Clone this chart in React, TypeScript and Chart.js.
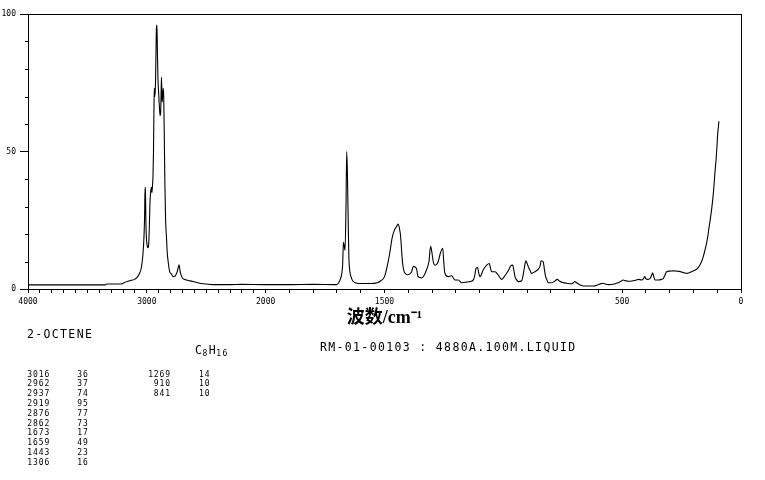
import React, { useEffect, useRef } from 'react';
import { Chart, registerables, LinearScale } from 'chart.js';

Chart.register(...registerables);

// ---- data ----
const wavenumbers = [
  4000, 3800, 3600, 3450, 3348, 3340, 3250, 3205, 3196, 3145, 3103, 3080, 3061, 3050, 3041, 3032, 3024, 3019, 3015, 3012,
  3008, 3004, 2995, 2989, 2984, 2978, 2974, 2966, 2962, 2957, 2952, 2948, 2944, 2940, 2937, 2932, 2927, 2923, 2919, 2915,
  2911, 2906, 2900, 2894, 2888, 2884, 2878, 2876, 2872, 2867, 2862, 2858, 2853, 2848, 2842, 2835, 2828, 2822, 2808, 2793,
  2780, 2765, 2752, 2743, 2735, 2729, 2722, 2715, 2700, 2667, 2611, 2527, 2442, 2300, 2200, 2000, 1900, 1800, 1701, 1695,
  1687, 1680, 1676, 1673, 1670, 1666, 1662, 1659, 1656, 1653, 1650, 1646, 1641, 1634, 1620, 1590, 1560, 1530, 1515, 1500,
  1488, 1478, 1468, 1458, 1449, 1443, 1437, 1432, 1428, 1424, 1418, 1414, 1405, 1393, 1386, 1378, 1372, 1365, 1359, 1350,
  1344, 1333, 1323, 1313, 1306, 1300, 1295, 1288, 1280, 1274, 1265, 1255, 1250, 1246, 1232, 1218, 1204, 1190, 1175, 1154,
  1140, 1126, 1120, 1115, 1108, 1104, 1098, 1085, 1070, 1059, 1054, 1049, 1035, 1021, 1007, 996, 986, 976, 969, 961,
  955, 951, 944, 937, 923, 918, 913, 908, 905, 900, 895, 888, 881, 867, 853, 845, 841, 832, 827, 822,
  816, 811, 800, 790, 782, 773, 764, 755, 734, 713, 705, 699, 692, 685, 675, 664, 640, 622, 605, 594,
  580, 570, 559, 538, 517, 505, 496, 486, 475, 454, 440, 433, 418, 410, 405, 400, 395, 383, 376, 372,
  367, 362, 348, 335, 327, 320, 313, 299, 285, 271, 260, 250, 239, 229, 218, 208, 197, 187, 180, 173,
  166, 159, 152, 145, 139, 134, 129, 124, 119, 114, 110, 105, 101, 98, 95, 93,
];
const intensities = [
  1.5, 1.5, 1.5, 1.5, 1.5, 1.8, 1.8, 1.9, 2.2, 3.0, 3.5, 4.3, 5.7, 7, 9.3, 13, 19, 26, 37, 36,
  25, 19, 15.4, 15, 16.5, 24, 31, 36, 37, 35, 38, 41, 50, 66, 73, 70, 75, 86, 95, 96,
  86, 76, 71, 66, 63, 64, 75, 77, 68, 70, 73, 70, 55, 38, 25, 19, 13, 10.5, 6.3, 5.5,
  4.5, 4.6, 5.5, 6.5, 8, 8.8, 7, 5.5, 4, 3.3, 2.7, 1.9, 1.6, 1.6, 1.7, 1.6, 1.6, 1.7, 1.6, 2.0,
  3.3, 5.5, 9, 17, 16, 14, 30, 50, 42, 26, 12, 6.5, 4.5, 3, 2.2, 2, 2, 2.3, 3, 4.5,
  8.5, 13, 18.5, 21.5, 22.7, 23.6, 22, 19, 14, 9.5, 6.5, 5.8, 5.2, 5.5, 6.3, 8.3, 8, 7.3, 4.5, 4.2,
  4, 5, 7, 10, 15.5, 13, 10, 8.7, 9, 10, 13, 14.8, 9, 5.8, 4.5, 4.8, 3.3, 3.3, 2.3, 2.5,
  2.7, 3.3, 5, 7.5, 7.8, 6, 4.5, 6.9, 8.7, 9.3, 7.5, 6.3, 6.3, 5, 3.5, 4.5, 5.7, 7.2, 8.4, 8.7,
  6.5, 4.5, 3.3, 2.7, 3, 4.5, 6.9, 9.5, 10.3, 9.3, 8.1, 6.8, 5.7, 6.3, 7.2, 8.5, 10.3, 9.8, 7, 4.5,
  3.2, 2.3, 2.3, 2.5, 3, 3.5, 2.9, 2.5, 2.1, 1.9, 2.3, 2.7, 2.3, 1.9, 1.4, 1.1, 1.1, 1.1, 1.4, 1.8,
  2.1, 1.8, 1.6, 1.7, 2.3, 2.8, 3.3, 3.0, 2.8, 3, 3.3, 3.5, 3.3, 3.8, 4.5, 3.8, 3.5, 3.8, 5, 5.9,
  4.5, 3.3, 3.3, 3.5, 3.8, 5, 6.3, 6.5, 6.6, 6.5, 6.4, 6.2, 5.9, 5.7, 5.9, 6.3, 6.7, 7.2, 7.8, 8.7,
  10, 11.7, 14, 16.6, 19.5, 22.7, 25.5, 28.7, 32.5, 37.2, 42, 46.9, 52, 56.6, 59, 61,
];

const xTickLabels = [4000, 3000, 2000, 1500, 500, 0];
const yTickLabels = [0, 50, 100];
const peakWavenumbers1 = ['3016', '2962', '2937', '2919', '2876', '2862', '1673', '1659', '1443', '1306'];
const peakIntensities1 = ['36', '37', '74', '95', '77', '73', '17', '49', '23', '16'];
const peakWavenumbers2 = ['1269', '910', '841'];
const peakIntensities2 = ['14', '10', '10'];
const compoundName = '2-OCTENE';
const sampleInfo = 'RM-01-00103 : 4880A.100M.LIQUID';

// ---- split wavenumber scale: above 2000 cm-1 compressed 2:1 ----
const BREAK = 2000;
const toAxis = (w: number) => (w <= BREAK ? w : BREAK + (w - BREAK) / 2);
const fromAxis = (a: number) => (a <= BREAK ? a : BREAK + (a - BREAK) * 2);

class BrokenScale extends LinearScale {
  static id = 'broken';
  static defaults = LinearScale.defaults;
  buildTicks() {
    const ticks: { value: number }[] = [];
    for (let v = this.min; v <= this.max + 1e-6; v += 100) ticks.push({ value: v });
    if (this.options.reverse) {
      ticks.reverse();
      (this as any).start = this.max;
      (this as any).end = this.min;
    } else {
      (this as any).start = this.min;
      (this as any).end = this.max;
    }
    return ticks as any;
  }
  getPixelForValue(value: number) {
    const a0 = toAxis(this.min);
    const span = toAxis(this.max) - a0;
    return this.getPixelForDecimal((toAxis(value) - a0) / span);
  }
  getValueForPixel(pixel: number) {
    const a0 = toAxis(this.min);
    const span = toAxis(this.max) - a0;
    return fromAxis(a0 + this.getDecimalForPixel(pixel) * span);
  }
}
Chart.register(BrokenScale as any);

const framePlugin = {
  id: 'frameAndMinorTicks',
  afterDraw(chart: any) {
    const ctx = chart.ctx;
    const a = chart.chartArea;
    const y = chart.scales.y;
    ctx.save();
    ctx.strokeStyle = '#000';
    ctx.lineWidth = 1;
    y.ticks.forEach((t: any) => {
      if (!yTickLabels.includes(t.value)) {
        const py = Math.round(y.getPixelForValue(t.value)) + 0.5;
        ctx.beginPath();
        ctx.moveTo(Math.round(a.left) - 3, py);
        ctx.lineTo(Math.round(a.left), py);
        ctx.stroke();
      }
    });
    ctx.strokeRect(Math.round(a.left) + 0.5, Math.round(a.top) + 0.5, Math.round(a.right - a.left), Math.round(a.bottom - a.top));
    ctx.restore();
  },
};

const mono = "'DejaVu Sans Mono', 'Liberation Mono', monospace";

export default function App() {
  const ref = useRef<HTMLCanvasElement>(null);
  useEffect(() => {
    if (!ref.current) return;
    const points = wavenumbers.map((w, i) => ({ x: w, y: intensities[i] }));
    const chart = new Chart(ref.current, {
      type: 'line',
      data: {
        datasets: [
          {
            data: points,
            borderColor: '#000',
            borderWidth: 1.1,
            pointRadius: 0,
            fill: false,
            cubicInterpolationMode: 'monotone',
          },
        ],
      },
      options: {
        animation: false,
        responsive: false,
        events: [],
        layout: { padding: { left: 0, top: 14, right: 24, bottom: 151 } },
        plugins: { legend: { display: false }, tooltip: { enabled: false }, title: { display: false } },
        scales: {
          x: {
            type: 'broken' as any,
            min: 0,
            max: 4000,
            reverse: true,
            afterFit: (s: any) => {
              s.height = 40;
            },
            border: { display: true, color: '#000', width: 1 },
            grid: { display: true, drawOnChartArea: false, drawTicks: true, tickLength: 4, color: '#000' },
            ticks: {
              autoSkip: false,
              maxRotation: 0,
              minRotation: 0,
              padding: 4,
              color: '#000',
              font: { family: mono, size: 8 },
              callback: (v: any) => (xTickLabels.includes(Number(v)) ? String(v) : ''),
            },
            title: {
              display: true,
              text: '波数/cm⁻¹',
              color: '#000',
              padding: { top: 0, bottom: 0 },
              font: { family: "'Liberation Serif', 'Noto Sans CJK SC', serif", size: 18, weight: 'bold' },
            },
          },
          y: {
            type: 'linear',
            min: 0,
            max: 100,
            afterFit: (s: any) => {
              s.width = 28;
            },
            border: { display: true, color: '#000', width: 1 },
            grid: {
              display: true,
              drawOnChartArea: false,
              drawTicks: true,
              tickLength: 8,
              color: '#000',
              tickColor: (c: any) => (c.tick && yTickLabels.includes(c.tick.value) ? '#000' : 'rgba(0,0,0,0)'),
            },
            ticks: {
              stepSize: 10,
              autoSkip: false,
              padding: 4,
              color: '#000',
              font: { family: mono, size: 8 },
              callback: (v: any) => (yTickLabels.includes(Number(v)) ? String(v) : ''),
            },
          },
        },
      },
      plugins: [framePlugin],
    } as any);
    return () => chart.destroy();
  }, []);

  const big: React.CSSProperties = {
    position: 'absolute',
    fontFamily: mono,
    fontSize: '11.5px',
    lineHeight: '11.5px',
    letterSpacing: '1.35px',
    color: '#000',
    whiteSpace: 'pre',
  };
  const small: React.CSSProperties = {
    position: 'absolute',
    fontFamily: mono,
    fontSize: '8px',
    lineHeight: '9.78px',
    letterSpacing: '0.9px',
    color: '#000',
    whiteSpace: 'pre',
    top: 369.6,
  };
  const sub: React.CSSProperties = { fontSize: '8px', verticalAlign: '-2px', letterSpacing: '1.5px' };

  return (
    <div style={{ position: 'absolute', left: 0, top: 0, width: 765, height: 480, background: '#fff' }}>
      <canvas ref={ref} width={765} height={480} style={{ position: 'absolute', left: 0, top: 0 }} />
      <div style={{ ...big, left: 27, top: 328.6 }}>{compoundName}</div>
      <div style={{ ...big, left: 195, top: 345.3, letterSpacing: '0.5px' }}>
        C<span style={sub}>8</span>H<span style={sub}>16</span>
      </div>
      <div style={{ ...big, left: 320, top: 342 }}>{sampleInfo}</div>
      <div style={{ ...small, left: 27.3 }}>
        {peakWavenumbers1.map((t) => (
          <div key={t}>{t}</div>
        ))}
      </div>
      <div style={{ ...small, left: 77.3 }}>
        {peakIntensities1.map((t, i) => (
          <div key={i}>{t}</div>
        ))}
      </div>
      <div style={{ ...small, left: 135, width: 36, textAlign: 'right' }}>
        {peakWavenumbers2.map((t) => (
          <div key={t}>{t}</div>
        ))}
      </div>
      <div style={{ ...small, left: 199 }}>
        {peakIntensities2.map((t, i) => (
          <div key={i}>{t}</div>
        ))}
      </div>
    </div>
  );
}
